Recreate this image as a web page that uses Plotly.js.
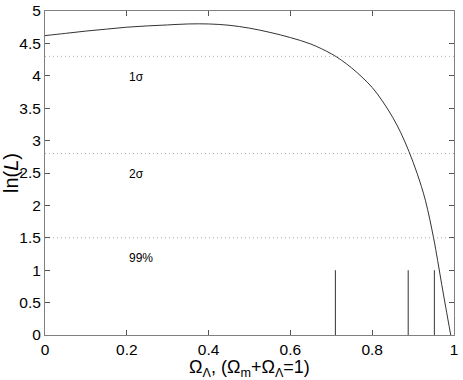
<!DOCTYPE html>
<html>
<head>
<meta charset="utf-8">
<script src="https://cdn.plot.ly/plotly-3.0.1.min.js"></script>
<style>
  body { margin: 0; background: #fff; }
  #chart { width: 463px; height: 380px; }
</style>
</head>
<body>
<div id="chart"></div>
<script>
// likelihood curve
var omegaL = [0, 0.05, 0.1, 0.15, 0.2, 0.25, 0.3, 0.35, 0.4, 0.45, 0.5, 0.55, 0.6, 0.65, 0.7, 0.725,
              0.75, 0.775, 0.8, 0.825, 0.85, 0.87, 0.89, 0.91, 0.93, 0.95, 0.96, 0.97, 0.98, 0.992];
var lnL = [4.62, 4.655, 4.69, 4.72, 4.75, 4.77, 4.785, 4.80, 4.80, 4.78, 4.735, 4.67, 4.59, 4.49, 4.34, 4.24,
           4.12, 3.98, 3.82, 3.61, 3.36, 3.12, 2.83, 2.49, 2.08, 1.50, 1.15, 0.78, 0.42, 0];

// confidence levels
var levels = [4.3, 2.8, 1.5];
var levelLabels = ['1σ', '2σ', '99%'];
var labelX = [0.2, 0.2, 0.2];
var labelY = [3.98, 2.49, 1.19];

// vertical markers
var markerX = [0.71, 0.888, 0.952];
var markerH = [1, 1, 1];

var data = [];

levels.forEach(function (lv) {
  data.push({
    type: 'scatter', mode: 'lines',
    x: [0, 1], y: [lv, lv],
    line: { color: '#b0b0b0', width: 1, dash: '1px,3px' },
    hoverinfo: 'skip'
  });
});

markerX.forEach(function (mx, i) {
  data.push({
    type: 'scatter', mode: 'lines',
    x: [mx, mx], y: [0, markerH[i]],
    line: { color: '#333', width: 1 }
  });
});

data.push({
  type: 'scatter', mode: 'lines',
  x: omegaL, y: lnL,
  line: { color: '#333', width: 1, shape: 'spline', smoothing: 1 }
});

var annotations = levelLabels.map(function (t, i) {
  return {
    x: labelX[i], y: labelY[i], text: t, showarrow: false,
    xanchor: 'left', yanchor: 'middle',
    font: { family: 'Liberation Sans, Arial, sans-serif', size: 12, color: '#000' }
  };
});

var axisCommon = {
  showgrid: false, zeroline: false,
  showline: true, linecolor: '#808080', linewidth: 1, mirror: 'ticks',
  ticks: 'inside', ticklen: 5, tickcolor: '#555',
  tickfont: { family: 'Liberation Sans, Arial, sans-serif', size: 15.5, color: '#000' }
};

var layout = {
  width: 463, height: 380,
  margin: { l: 45, r: 9, t: 11, b: 45 },
  paper_bgcolor: '#fff', plot_bgcolor: '#fff',
  showlegend: false,
  annotations: annotations,
  xaxis: Object.assign({}, axisCommon, {
    range: [0, 1], tickvals: [0, 0.2, 0.4, 0.6, 0.8, 1],
    title: { text: 'Ω<sub>Λ</sub>, (Ω<sub>m</sub>+Ω<sub>Λ</sub>=1)', standoff: 0,
             font: { family: 'Liberation Sans, Arial, sans-serif', size: 18, color: '#000' } }
  }),
  yaxis: Object.assign({}, axisCommon, {
    range: [0, 5], tickvals: [0, 0.5, 1, 1.5, 2, 2.5, 3, 3.5, 4, 4.5, 5],
    ticktext: ['0', '0.5', '1', '1.5', '2', '2.5', '3', '3.5', '4', '4.5', '5'],
    title: { text: 'ln(<i>L</i>)', standoff: 0,
             font: { family: 'Liberation Sans, Arial, sans-serif', size: 20, color: '#000' } }
  })
};

Plotly.newPlot('chart', data, layout, { displayModeBar: false, staticPlot: true });
</script>
</body>
</html>
